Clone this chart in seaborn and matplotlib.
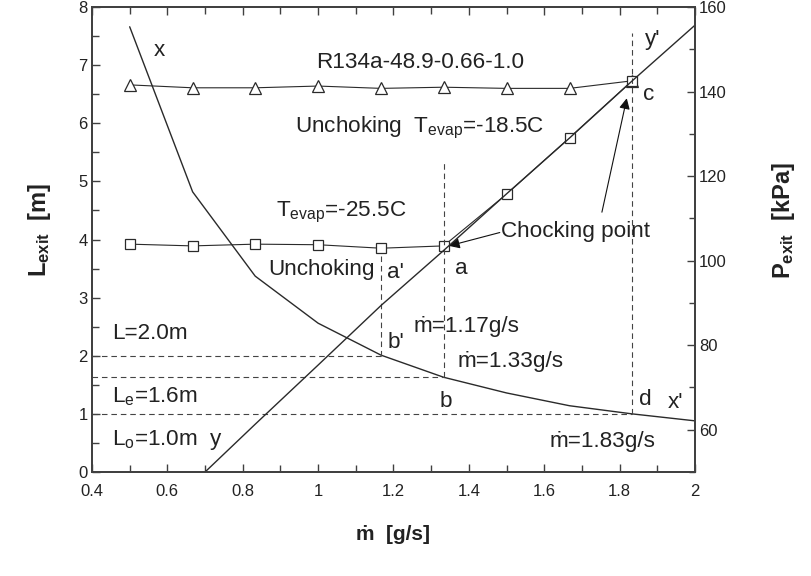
import numpy as np
import pandas as pd
import matplotlib
matplotlib.use("Agg")
import matplotlib.pyplot as plt
from matplotlib.ticker import MultipleLocator, FuncFormatter
import seaborn as sns

# ---------------- data ----------------
mdot = [0.5, 0.667, 0.833, 1.0, 1.167, 1.333, 1.5, 1.667, 1.833]
L_tri = [6.66, 6.61, 6.61, 6.64, 6.60, 6.62, 6.60, 6.60, 6.73]   # Tevap = -18.5C
L_sq = [3.92, 3.89, 3.92, 3.91, 3.85, 3.89, 4.78, 5.75, 6.73]    # Tevap = -25.5C
mdot_x = [0.5, 0.667, 0.833, 1.0, 1.167, 1.333, 1.5, 1.667, 1.833, 2.0]
L_x = [7.66, 4.82, 3.37, 2.56, 2.01, 1.63, 1.36, 1.14, 1.0, 0.88]   # curve x - x'
mdot_p = [0.7, 0.833, 1.0, 1.167, 1.333, 1.5, 1.667, 1.833, 2.0]
P_exit = [50.0, 61.3, 75.3, 89.4, 102.4, 115.8, 129.0, 142.5, 155.7]  # line y - y' (kPa)

# guide lines (reference values)
L_guides = [(2.0, 1.167), (1.63, 1.333), (1.0, 1.833)]          # horizontal: L, x end
m_guides = [(1.167, 3.73, 2.0), (1.333, 5.33, 1.63), (1.833, 7.55, 1.0)]  # vertical: x, top, bottom

xticks = [0.4, 0.6, 0.8, 1.0, 1.2, 1.4, 1.6, 1.8, 2.0]

# ---------------- style ----------------
sns.set_style("ticks")
plt.rcParams['font.family'] = ['Liberation Sans', 'DejaVu Sans']
plt.rcParams['mathtext.fontset'] = 'custom'
plt.rcParams['mathtext.rm'] = 'Liberation Sans'
plt.rcParams['mathtext.it'] = 'Liberation Sans:italic'
plt.rcParams['mathtext.bf'] = 'Liberation Sans:bold'

LC = '#2a2a2a'
SC = '#404040'
TXT = '#222222'

fig = plt.figure(figsize=(8.12, 5.76), dpi=100)
ax = fig.add_axes([92/812, 1-472/576, (695-92)/812, (472-7)/576])
ax2 = ax.twinx()

df_tri = pd.DataFrame({'mdot': mdot, 'L': L_tri})
df_sq = pd.DataFrame({'mdot': mdot, 'L': L_sq})
df_x = pd.DataFrame({'mdot': mdot_x, 'L': L_x})
df_p = pd.DataFrame({'mdot': mdot_p, 'P': P_exit})

sns.lineplot(data=df_x, x='mdot', y='L', ax=ax, color=LC, lw=1.0, sort=False, estimator=None)
sns.lineplot(data=df_tri, x='mdot', y='L', ax=ax, color=LC, lw=0.8, sort=False, estimator=None,
             marker='^', markersize=8, markerfacecolor='white', markeredgecolor=LC, markeredgewidth=0.9)
sns.lineplot(data=df_sq, x='mdot', y='L', ax=ax, color=LC, lw=0.8, sort=False, estimator=None,
             marker='s', markersize=7.5, markerfacecolor='white', markeredgecolor=LC, markeredgewidth=0.9)
sns.lineplot(data=df_p, x='mdot', y='P', ax=ax2, color=LC, lw=1.0, sort=False, estimator=None)

for Lv, xe in L_guides:
    ax.plot([0.4, xe], [Lv, Lv], color='#444444', lw=0.8, dashes=(5, 3.5))
for xv, top, bot in m_guides:
    ax.plot([xv, xv], [bot, top], color='#444444', lw=0.8, dashes=(5, 3.5))

# limits & ticks
ax.set_xlim(0.4, 2.0)
ax.set_ylim(0, 8)
ax2.set_ylim(50, 160)
ax.set_xticks(xticks)
ax.xaxis.set_major_formatter(FuncFormatter(lambda v, p: f'{v:g}'))
ax.xaxis.set_minor_locator(MultipleLocator(0.1))
ax.yaxis.set_major_locator(MultipleLocator(1))
ax.yaxis.set_minor_locator(MultipleLocator(0.5))
ax2.yaxis.set_major_locator(MultipleLocator(20))
ax2.yaxis.set_minor_locator(MultipleLocator(10))
ax2.set_yticks([60, 80, 100, 120, 140, 160])

for a in (ax, ax2):
    a.tick_params(which='major', direction='in', length=6, width=1.0, color=SC, labelsize=12,
                  labelcolor=TXT, pad=3)
    a.tick_params(which='minor', direction='in', length=4, width=1.0, color=SC)
    for s in a.spines.values():
        s.set_color(SC)
        s.set_linewidth(1.3)
ax.tick_params(which='both', top=True, right=False)
ax.tick_params(which='minor', length=5)
ax.tick_params(axis='x', which='major', pad=9)
ax2.tick_params(which='both', left=False, right=True)
ax.grid(False)
ax2.grid(False)

ax.set_xlabel('ṁ  [g/s]', fontsize=15, fontweight='bold', color=TXT, labelpad=18)
ax.set_ylabel(r'$\mathbf{L_{exit}}$  [m]', fontsize=17, fontweight='bold', color=TXT)
ax.yaxis.set_label_coords(-0.064, 0.52)
ax2.set_ylabel(r'$\mathbf{P_{exit}}$  [kPa]', fontsize=17, fontweight='bold', color=TXT)
ax2.yaxis.set_label_coords(1.125, 0.54)

# ---------------- annotations ----------------
fs = 16.2
tk = dict(fontsize=fs, color=TXT, va='baseline', ha='left')
ax.text(0.563, 7.16, 'x', **tk)
ax.text(0.994, 6.95, 'R134a-48.9-0.66-1.0', **tk)
ax.text(0.938, 5.85, r'Unchoking  T$_{\mathrm{evap}}$=-18.5C', **tk)
ax.text(0.888, 4.39, r'T$_{\mathrm{evap}}$=-25.5C', **tk)
ax.text(0.867, 3.39, 'Unchoking', **tk)
ax.text(1.183, 3.34, "a'", **tk)
ax.text(1.363, 3.41, 'a', **tk)
ax.text(1.485, 4.04, 'Chocking point', **tk)
ax.text(1.862, 6.40, 'c', **tk)
ax.text(1.867, 7.35, "y'", **tk)
ax.text(0.453, 2.29, 'L=2.0m', **tk)
ax.text(0.453, 1.19, r'L$_{\mathrm{e}}$=1.6m', **tk)
ax.text(0.453, 0.46, r'L$_{\mathrm{o}}$=1.0m  y', **tk)
ax.text(1.185, 2.13, "b'", **tk)
ax.text(1.252, 2.41, 'ṁ=1.17g/s', **tk)
ax.text(1.371, 1.81, 'ṁ=1.33g/s', **tk)
ax.text(1.323, 1.12, 'b', **tk)
ax.text(1.851, 1.15, 'd', **tk)
ax.text(1.928, 1.10, "x'", **tk)
ax.text(1.615, 0.43, 'ṁ=1.83g/s', **tk)

arrow = dict(arrowstyle='-|>', color='#111111', lw=0.8, mutation_scale=16, shrinkA=0, shrinkB=0)
ax.annotate('', xy=(1.347, 3.89), xytext=(1.482, 4.12), arrowprops=arrow)
ax.annotate('', xy=(1.819, 6.43), xytext=(1.753, 4.47), arrowprops=arrow)

fig.savefig('out.png', dpi=100)
